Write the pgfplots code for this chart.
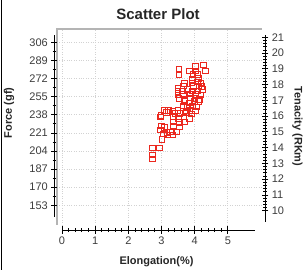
\documentclass[border=0pt]{standalone}
\usepackage{fontspec}
\setmainfont{Liberation Sans}
\usepackage{pgfplots}
\pgfplotsset{compat=1.18}
\definecolor{framec}{RGB}{180,180,180}
\definecolor{gridc}{RGB}{210,210,210}
\definecolor{tickc}{RGB}{60,60,60}
\definecolor{mk}{RGB}{235,40,30}
\pgfplotsset{
  sideaxis/.style={scale only axis,
    tick align=outside, tick style={black, line width=0.8pt},
    ticklabel style={font=\fontsize{11}{13}\selectfont, text=tickc},
    /pgf/number format/assume math mode=true},
  noarrow/.style={axis line style={-, black, line width=0.9pt},
    x axis line style={-}, y axis line style={-},
    every outer y axis line/.append style={-}, every outer x axis line/.append style={-},
    every inner y axis line/.append style={-}, every inner x axis line/.append style={-}}
}
\begin{document}
\begin{tikzpicture}[x=1pt,y=1pt]
\path[use as bounding box] (0,0) rectangle (303,270);
\draw[black, line width=1pt] (1.2,0) -- (1.2,270);
% main plotting area
\begin{axis}[at={(57pt,45pt)}, anchor=south west, scale only axis, width=205pt, height=196pt,
  xmin=-0.151, xmax=6.033, ymin=134.5, ymax=318.5,
  axis line style={draw=none}, xtick={0,...,5}, ytick={153,170,...,306},
  xticklabels={}, yticklabels={}, tick style={draw=none}, grid=major,
  major grid style={dotted, gridc, line width=0.7pt}, clip=false]
\addplot[only marks, mark=square, mark size=2.8pt, mark options={draw=mk, line width=0.7pt, fill=none}] table {
x y
2.73 196.5
2.73 200.2
2.73 207.1
2.93 207.1
3.01 214.9
3.06 219.9
3.18 219.0
3.34 219.0
2.96 223.7
3.16 221.2
3.26 222.1
3.46 222.1
2.99 227.4
3.09 226.2
3.36 227.4
3.54 226.8
3.36 231.5
3.53 230.6
3.71 231.5
2.96 236.2
3.36 236.2
3.51 234.6
3.68 236.2
3.84 234.6
2.98 237.7
3.14 240.0
3.41 239.3
3.56 239.3
3.76 240.0
3.91 238.7
3.09 242.4
3.21 242.4
3.34 241.8
3.49 242.4
3.73 241.8
3.86 242.4
4.03 241.8
3.66 246.2
3.78 245.0
3.94 246.2
4.06 245.6
3.69 250.3
3.84 249.3
3.99 250.3
4.11 250.3
3.53 253.4
3.71 252.5
3.88 254.0
4.01 253.4
4.14 252.5
3.49 256.5
3.66 257.2
3.86 257.5
4.04 257.2
4.19 256.5
3.49 259.7
3.63 260.6
3.78 261.8
3.94 260.6
4.09 260.6
4.24 261.8
3.49 263.4
3.66 265.0
3.96 264.4
4.13 265.0
4.21 264.4
3.69 267.5
3.92 268.1
4.09 269.0
4.19 268.1
3.94 271.2
4.11 272.2
3.85 279.1
3.95 275.9
4.08 275.9
3.53 280.6
3.53 276.2
4.04 279.1
4.03 283.7
4.27 284.7
4.33 279.1
};
\draw[framec, line width=1.3pt] (rel axis cs:0,0) -- (rel axis cs:0,1) -- (rel axis cs:1,1);
\end{axis}
% left y axis
\begin{axis}[sideaxis, at={(54.3pt,53.3pt)}, anchor=south west, width=10pt, height=181.7pt,
  xmin=0, xmax=1, ymin=142.3, ymax=313, axis x line=none, axis y line=left, noarrow,
  ytick={153,170,...,306}, minor y tick num=1, major tick length=6pt, minor tick length=3.5pt]
\end{axis}
% right y axis
\begin{axis}[sideaxis, at={(265pt,48.3pt)}, anchor=south east, width=10pt, height=186.7pt,
  xmin=0, xmax=1, ymin=9.30, ymax=21.15, axis x line=none, axis y line=right, noarrow,
  ytick={10,...,21}, minor y tick num=4, major tick length=6.5pt, minor tick length=3.3pt]
\end{axis}
% x axis
\begin{axis}[sideaxis, at={(62pt,40pt)}, anchor=south west, width=193pt, height=10pt,
  xmin=0, xmax=5.82, ymin=0, ymax=1, axis y line=none, axis x line=bottom, noarrow,
  xtick={0,...,5}, minor x tick num=4, major tick length=7.5pt, minor tick length=4.5pt]
\end{axis}
\node[font=\fontsize{15}{17}\selectfont\bfseries, text=black!85] at (158,256) {Scatter Plot};
\node[font=\fontsize{11}{13}\selectfont\bfseries, text=black!85] at (156.5,8.3) {Elongation(\%)};
\node[font=\fontsize{11}{13}\selectfont\bfseries, text=black!85, rotate=90] at (9,157) {Force (gf)};
\node[font=\fontsize{11}{13}\selectfont\bfseries, text=black!85, rotate=-90] at (297.5,143.5) {Tenacity (RKm)};
\end{tikzpicture}
\end{document}
